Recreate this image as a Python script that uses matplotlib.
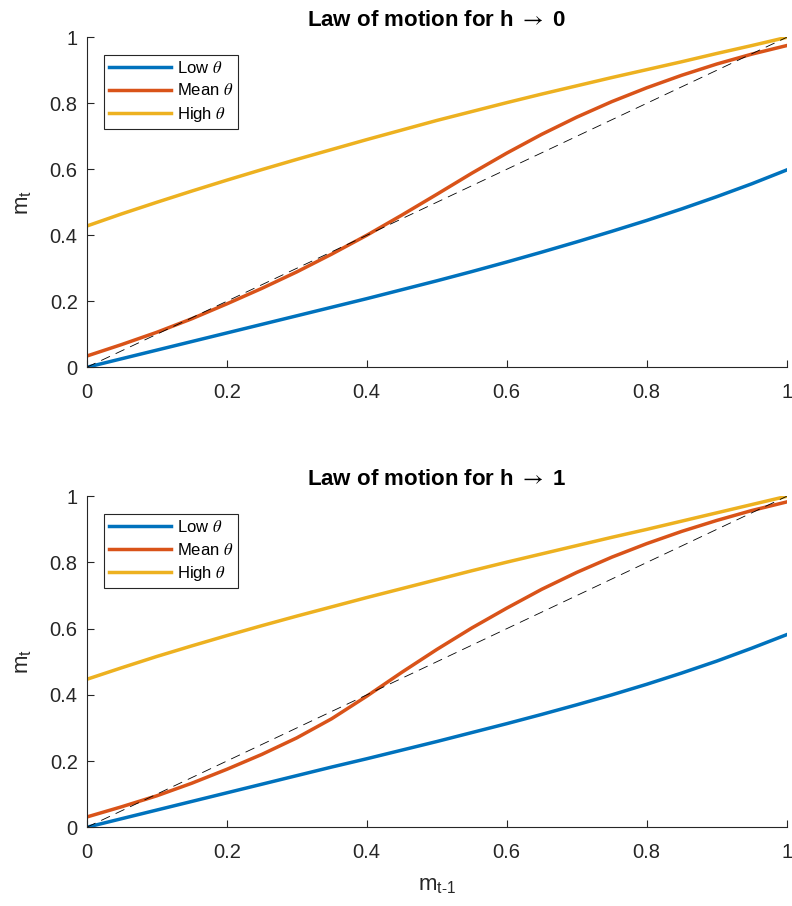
import matplotlib
matplotlib.use("Agg")
import matplotlib.pyplot as plt
import numpy as np

m_prev = [0.00, 0.05, 0.10, 0.15, 0.20, 0.25, 0.30, 0.35, 0.40, 0.45, 0.50,
          0.55, 0.60, 0.65, 0.70, 0.75, 0.80, 0.85, 0.90, 0.95, 1.00]

low_h0  = [0.000, 0.026, 0.052, 0.078, 0.104, 0.130, 0.156, 0.182, 0.208, 0.235, 0.262,
           0.290, 0.319, 0.349, 0.380, 0.412, 0.445, 0.480, 0.517, 0.556, 0.598]
mean_h0 = [0.034, 0.069, 0.106, 0.147, 0.192, 0.239, 0.289, 0.343, 0.400, 0.461, 0.524,
           0.588, 0.649, 0.706, 0.758, 0.805, 0.847, 0.885, 0.919, 0.949, 0.975]
high_h0 = [0.428, 0.465, 0.500, 0.534, 0.567, 0.599, 0.630, 0.660, 0.690, 0.719, 0.748,
           0.775, 0.802, 0.828, 0.853, 0.878, 0.902, 0.926, 0.951, 0.975, 1.000]

low_h1  = [0.000, 0.026, 0.052, 0.078, 0.104, 0.130, 0.156, 0.182, 0.207, 0.233, 0.259,
           0.286, 0.313, 0.341, 0.370, 0.400, 0.432, 0.466, 0.502, 0.541, 0.582]
mean_h1 = [0.031, 0.062, 0.095, 0.133, 0.175, 0.220, 0.270, 0.328, 0.396, 0.468, 0.537,
           0.602, 0.662, 0.719, 0.770, 0.816, 0.857, 0.894, 0.927, 0.957, 0.983]
high_h1 = [0.447, 0.482, 0.516, 0.548, 0.579, 0.609, 0.638, 0.666, 0.694, 0.721, 0.748,
           0.775, 0.801, 0.826, 0.851, 0.876, 0.900, 0.925, 0.950, 0.975, 1.000]

diag = [0.0, 1.0]
ticks = [0, 0.2, 0.4, 0.6, 0.8, 1]
tick_labels = ["0", "0.2", "0.4", "0.6", "0.8", "1"]
titles = [r"Law of motion for h $\rightarrow$ 0", r"Law of motion for h $\rightarrow$ 1"]
series_names = [r"Low $\theta$", r"Mean $\theta$", r"High $\theta$"]
colors = ["#0072BD", "#D95319", "#EDB120"]

plt.rcParams["font.family"] = ["Liberation Sans", "DejaVu Sans"]
plt.rcParams["mathtext.fontset"] = "stix"
plt.rcParams["lines.scale_dashes"] = False

axc = "#262626"
fig = plt.figure(figsize=(7.92, 9.06), dpi=100)
axes = [fig.add_axes([0.1095, 0.5946, 0.8838, 0.3642]),
        fig.add_axes([0.1095, 0.0869, 0.8838, 0.3653])]
data = [(low_h0, mean_h0, high_h0), (low_h1, mean_h1, high_h1)]

for ax, ser, title in zip(axes, data, titles):
    for y, c, name in zip(ser, colors, series_names):
        ax.plot(m_prev, y, color=c, lw=2.5, label=name)
    ax.plot(diag, diag, color="k", lw=0.6, dashes=(7, 4.5))
    ax.set_xlim(0, 1)
    ax.set_ylim(0, 1)
    ax.set_xticks(ticks)
    ax.set_xticklabels(tick_labels)
    ax.set_yticks(ticks)
    ax.set_yticklabels(tick_labels)
    for s in ["top", "right"]:
        ax.spines[s].set_visible(False)
    for s in ["left", "bottom"]:
        ax.spines[s].set_color(axc)
        ax.spines[s].set_linewidth(0.8)
    ax.tick_params(direction="in", length=5, width=0.8, colors=axc, labelsize=14.5)
    ax.tick_params(axis="x", pad=11)
    ax.tick_params(axis="y", pad=6.5)
    ax.set_title(title, fontsize=16, fontweight="bold", pad=8, color="black")
    ax.set_ylabel(r"m$_\mathregular{t}$", fontsize=16, color=axc, labelpad=12)
    leg = ax.legend(loc="upper left", bbox_to_anchor=(0.025, 0.946), fontsize=12,
                    handlelength=3.7, handletextpad=0.37, labelspacing=0.38,
                    borderpad=0.3, borderaxespad=0.0, fancybox=False, framealpha=1)
    leg.get_frame().set_edgecolor(axc)
    leg.get_frame().set_linewidth(0.8)

axes[1].set_xlabel(r"m$_\mathregular{t\text{-}1}$", fontsize=16, color=axc, labelpad=9)

fig.savefig("out.png", dpi=100)
